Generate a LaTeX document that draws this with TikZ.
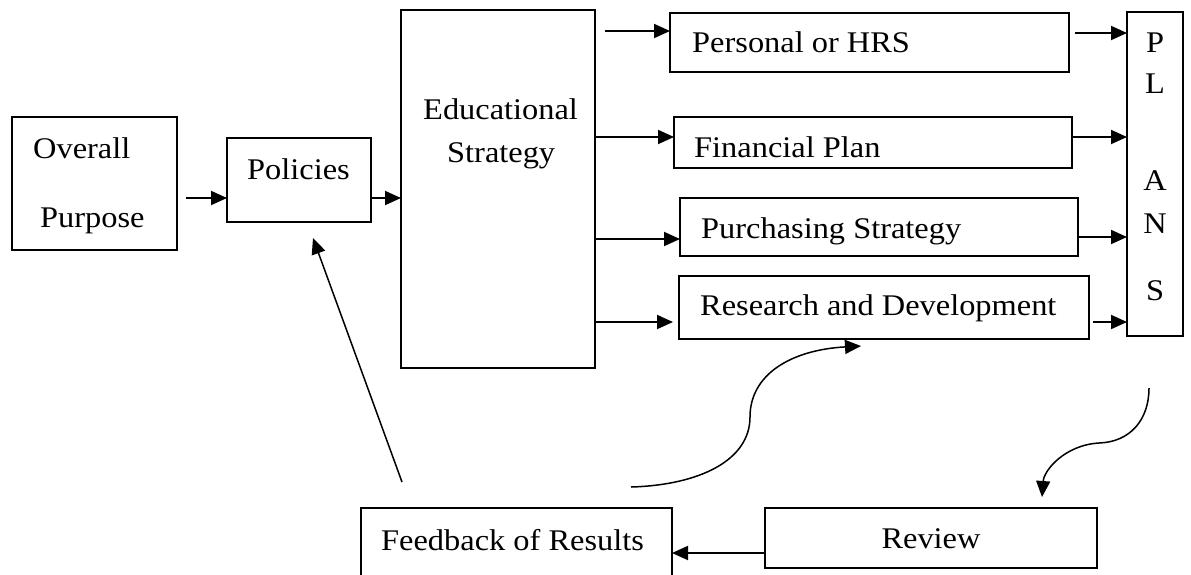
\documentclass[tikz,border=0pt]{standalone}
\usepackage{fontspec}
\setmainfont{Liberation Serif}[FakeStretch=1.08]
\usetikzlibrary{arrows.meta}
\begin{document}
\begin{tikzpicture}[x=1pt,y=-1pt,
  box/.style={draw, line width=1.9pt, inner sep=0pt, outer sep=0pt, rectangle},
  lbl/.style={font=\fontsize{30}{36}\selectfont, inner sep=0pt, anchor=base west},
  lblc/.style={font=\fontsize{30}{36}\selectfont, inner sep=0pt, anchor=base},
  arr/.style={line width=1.9pt, -{Triangle[length=16pt,width=14pt]}},
  curv/.style={line width=1.5pt, -{Triangle[length=16pt,width=14pt]}}]
\useasboundingbox (0,0) rectangle (1191,574);
\clip (0,0) rectangle (1191,574);

% boxes
\node[box, minimum width=165pt, minimum height=133pt] (op) at (94.5,183.5) {};
\node[box, minimum width=144pt, minimum height=84pt] (pol) at (299,180) {};
\node[box, minimum width=194pt, minimum height=358pt] (edu) at (498,189) {};
\node[box, minimum width=399pt, minimum height=59pt] (per) at (869.5,42.5) {};
\node[box, minimum width=398pt, minimum height=51pt] (fin) at (873,142.5) {};
\node[box, minimum width=398pt, minimum height=58pt] (pur) at (879,227) {};
\node[box, minimum width=410pt, minimum height=63pt] (rd) at (884,307.5) {};
\node[box, minimum width=56pt, minimum height=324pt] (plans) at (1155,174) {};
\node[box, minimum width=311pt, minimum height=112pt] (fb) at (516.5,564) {};
\node[box, minimum width=332pt, minimum height=60pt] (rev) at (931,538) {};

% texts
\node[lbl] (t-over) at (33,158) {Overall};
\node[lbl] (t-purp) at (40,227) {Purpose};
\node[lbl] (t-pol) at (247,179) {Policies};
\node[lbl] (t-edu) at (423,119) {Educational};
\node[lbl] (t-str) at (447,162) {Strategy};
\node[lbl] (t-per) at (692,52) {Personal or HRS};
\node[lbl] (t-fin) at (694,157) {Financial Plan};
\node[lbl] (t-pur) at (701,238) {Purchasing Strategy};
\node[lbl] (t-rd) at (700,315) {Research and Development};
\node[lblc] (t-p) at (1155,52) {P};
\node[lblc] (t-l) at (1155,93) {L};
\node[lblc] (t-a) at (1155,190) {A};
\node[lblc] (t-n) at (1155,233) {N};
\node[lblc] (t-s) at (1155,300) {S};
\node[lbl] (t-fb) at (381,550) {Feedback of Results};
\node[lblc] (t-rev) at (931,548) {Review};

% connector free ends
\coordinate (c1) at (186,198);
\coordinate (c2) at (605,31);
\coordinate (c3) at (1075,33);
\coordinate (c4) at (1093,322);
\coordinate (c5) at (402,482);
\coordinate (c6) at (313,238);
\coordinate (c7) at (631,487);
\coordinate (c8) at (861,346);
\coordinate (c9) at (1149,388);
\coordinate (c10) at (1042,497);

% straight arrows
\draw[arr] (c1) -- (c1 -| pol.west);
\draw[arr] (pol.east |- c1) -- (edu.west |- c1);
\draw[arr] (c2) -- (c2 -| per.west);
\draw[arr] (edu.east |- 0,137) -- (fin.west |- 0,137);
\draw[arr] (edu.east |- 0,239) -- (pur.west |- 0,239);
\draw[arr] (edu.east |- 0,322) -- ([xshift=-6pt]rd.west |- 0,322);
\draw[arr] (c3) -- (c3 -| plans.west);
\draw[arr] (fin.east |- 0,137) -- (plans.west |- 0,137);
\draw[arr] (pur.east |- 0,237) -- (plans.west |- 0,237);
\draw[arr] (c4) -- (c4 -| plans.west);
\draw[arr] (rev.west |- 0,553) -- (fb.east |- 0,553);

% feedback line and curves
\draw[curv] (c5) -- (c6);
\draw[curv] (c7) .. controls (700,485) and (750,460) .. (750,417)
  .. controls (750,375) and (790,350) .. (c8);
\draw[curv] (c9) .. controls (1149,420) and (1130,442) .. (1099,443)
  .. controls (1065,445) and (1044,470) .. (c10);
\end{tikzpicture}
\end{document}
